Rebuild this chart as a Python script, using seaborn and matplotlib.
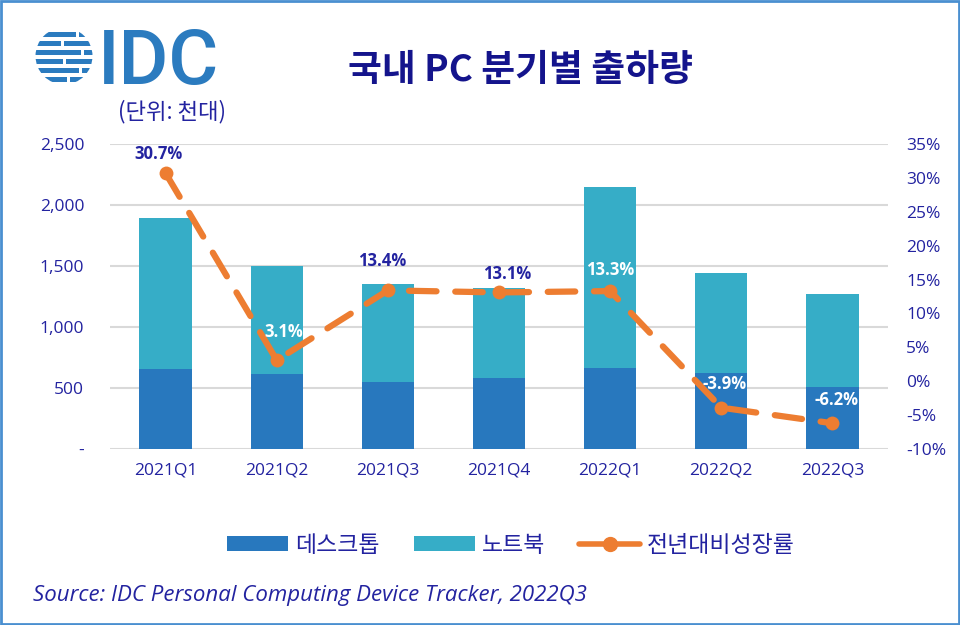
import numpy as np
import pandas as pd
import matplotlib
matplotlib.use("Agg")
import matplotlib.pyplot as plt
import seaborn as sns
from matplotlib.patches import Rectangle, Circle, Patch
from matplotlib.lines import Line2D

# ---------------- data ----------------
quarters = ["2021Q1", "2021Q2", "2021Q3", "2021Q4", "2022Q1", "2022Q2", "2022Q3"]
desktop = [656, 615, 549, 582, 664, 620, 511]
total = [1893, 1500, 1352, 1320, 2148, 1445, 1270]
growth = [30.7, 3.1, 13.4, 13.1, 13.3, -3.9, -6.2]
left_ticks = [0, 500, 1000, 1500, 2000, 2500]
left_ticklabels = ["-", "500", "1,000", "1,500", "2,000", "2,500"]
right_ticks = [-10, -5, 0, 5, 10, 15, 20, 25, 30, 35]
right_ticklabels = ["-10%", "-5%", "0%", "5%", "10%", "15%", "20%", "25%", "30%", "35%"]
series_names = ["데스크톱", "노트북", "전년대비성장률"]
title = "국내 PC 분기별 출하량"
unit_text = "(단위: 천대)"
source_text = "Source: IDC Personal Computing Device Tracker, 2022Q3"

df = pd.DataFrame({"quarter": quarters, "desktop": desktop, "total": total, "growth": growth})

# ---------------- style ----------------
sns.set_theme(style="white")
plt.rcParams["font.family"] = ["Open Sans", "Noto Sans CJK KR", "DejaVu Sans"]
KR = ["Noto Sans CJK KR", "DejaVu Sans"]

NAVY = "#2323A0"
TITLE_NAVY = "#14148C"
C_DESK = "#2878BE"
C_NOTE = "#36ADC7"
C_ORANGE = "#ED7D31"
GRID = "#D9D9D9"

W, H = 960, 625
fig = plt.figure(figsize=(W / 100, H / 100), dpi=100)

ax = fig.add_axes([110 / W, 1 - 449 / H, 778 / W, 305 / H])

for t in left_ticks:
    ax.axhline(t, color=GRID, lw=1.5, zorder=0)

sns.barplot(data=df, x="quarter", y="total", color=C_NOTE, width=0.47,
            saturation=1, ax=ax, zorder=2, edgecolor="none")
sns.barplot(data=df, x="quarter", y="desktop", color=C_DESK, width=0.47,
            saturation=1, ax=ax, zorder=3, edgecolor="none")

ax.set_xlim(-0.5, len(quarters) - 0.5)
ax.set_ylim(0, 2500)
ax.set_yticks(left_ticks)
ax.set_yticklabels(left_ticklabels)
ax.set_xlabel("")
ax.set_ylabel("")
ax.tick_params(axis="y", length=0, pad=18.5, labelsize=12.5, labelcolor=NAVY)
ax.tick_params(axis="x", length=0, pad=10, labelsize=12.5, labelcolor=NAVY)
for s in ax.spines.values():
    s.set_visible(False)

ax2 = ax.twinx()
sns.lineplot(x=np.arange(len(quarters)), y=growth, ax=ax2, color=C_ORANGE, lw=4.5,
             marker="o", markersize=10, markeredgewidth=0, dashes=False, zorder=5)
ax2.lines[0].set_dashes([4.4, 3])
ax2.lines[0].set_dash_capstyle("round")
ax2.set_ylim(-10, 35)
ax2.set_yticks(right_ticks)
ax2.set_yticklabels(right_ticklabels)
ax2.tick_params(axis="y", length=0, pad=13, labelsize=12.5, labelcolor=NAVY)
ax2.grid(False)
for s in ax2.spines.values():
    s.set_visible(False)

label_colors = [NAVY, "white", NAVY, NAVY, "white", "white", "white"]
label_dx = [-5, 5, -4, 6, 0, 2, 3]
label_dy = [14, 20, 21, 13, 15, 17, 17]
for i, v in enumerate(growth):
    ax2.annotate(f"{v:.1f}%", (i, v), xytext=(label_dx[i], label_dy[i]), textcoords="offset points",
                 ha="center", va="center", fontsize=12, fontweight="bold",
                 color=label_colors[i], zorder=6)

# ---------------- title, logo, texts ----------------
fig.text(520 / W, 1 - 70 / H, title, ha="center", va="center", fontsize=26.5,
         fontweight="bold", family=KR, color=TITLE_NAVY)
fig.text(172 / W, 1 - 112 / H, unit_text, ha="center", va="center", fontsize=16,
         family=KR, color=NAVY)

LOGO = "#2B7BBF"
fig.text(98 / W, 1 - 84 / H, "IDC", ha="left", va="baseline", fontsize=55,
         family=["Roboto", "DejaVu Sans"], fontweight="medium", color=LOGO)
lax = fig.add_axes([34 / W, 1 - 86 / H, 60 / W, 60 / H])
lax.set_xlim(-1, 1)
lax.set_ylim(-1, 1)
lax.axis("off")
clip = Circle((0, 0), 0.95, transform=lax.transData)
stripe_y = [0.72, 0.42, 0.12, -0.18, -0.48, -0.78]
stripe_gap = [0.2, -0.3, 0.35, -0.25, 0.3, -0.1]
for yy, g in zip(stripe_y, stripe_gap):
    r1 = Rectangle((-1, yy - 0.09), 1.2 + g, 0.18, color=LOGO, lw=0)
    r2 = Rectangle((0.3 + g, yy - 0.09), 1.0, 0.18, color=LOGO, lw=0)
    for r in (r1, r2):
        lax.add_patch(r)
        r.set_clip_path(clip)

# legend
handles = [
    Patch(facecolor=C_DESK, edgecolor="none"),
    Patch(facecolor=C_NOTE, edgecolor="none"),
    Line2D([0], [0], color=C_ORANGE, lw=4, marker="o", markersize=10),
]
leg = fig.legend(handles, series_names, loc="center", bbox_to_anchor=(511 / W, 1 - 545 / H),
                 ncol=3, frameon=False, labelcolor=NAVY, handlelength=2.65,
                 handleheight=0.6, handletextpad=0.3, columnspacing=1.5,
                 prop={"family": KR, "size": 16.5})

fig.text(33 / W, 1 - 596 / H, source_text, ha="left", va="center", fontsize=16,
         style="italic", family=["Open Sans", "DejaVu Sans"], color=NAVY)

# frame
fig.patches.append(Rectangle((0.001, 0.0015), 0.998, 0.997, transform=fig.transFigure,
                             fill=False, edgecolor="#4A8FD0", lw=2))

fig.savefig("out.png", dpi=100)
